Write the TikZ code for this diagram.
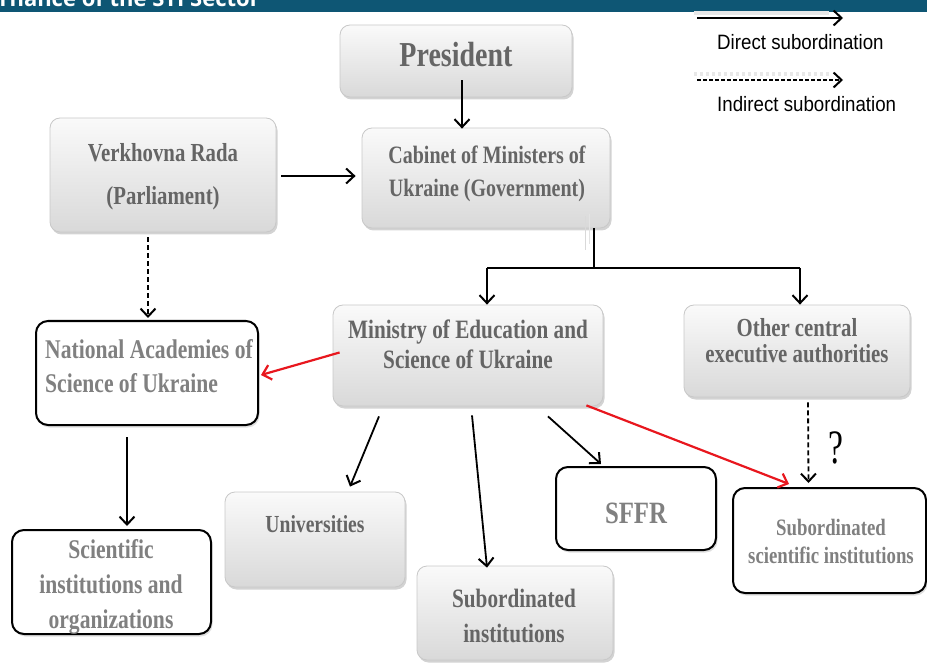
\documentclass[tikz,border=0pt]{standalone}
\usepackage{fontspec}
\setmainfont{Liberation Serif}
\newfontfamily\boxfont[FakeStretch=0.8]{Liberation Serif}
\newfontfamily\markfont[FakeStretch=0.7]{Liberation Serif}
\newfontfamily\legendfont[FakeStretch=0.9]{Liberation Sans}
\newfontfamily\bandfont{Open Sans}
\usetikzlibrary{arrows.meta,shadows,calc}

\definecolor{bandblue}{HTML}{0E5674}
\definecolor{boxtext}{HTML}{656565}
\definecolor{lighttext}{HTML}{808080}
\definecolor{boxedge}{HTML}{C8C8C8}
\definecolor{redarrow}{HTML}{E8171E}

\tikzset{
  graybox/.style={rectangle, rounded corners=10pt, draw=boxedge, line width=0.8pt,
    top color=gray!4, bottom color=gray!30, inner sep=0pt,
    drop shadow={shadow xshift=1.5pt, shadow yshift=-2.5pt, opacity=0.35, fill=gray}},
  whitebox/.style={rectangle, rounded corners=12pt, draw=black, line width=2pt,
    fill=white, inner sep=0pt,
    drop shadow={shadow xshift=1.5pt, shadow yshift=-2.5pt, opacity=0.25, fill=gray}},
  lbl/.style={font=\boxfont\bfseries, text=boxtext, align=center, inner sep=0pt, anchor=base},
  wlbl/.style={lbl, text=lighttext},
  arr/.style={line width=1.8pt, -{Straight Barb[length=8pt,width=15pt,line width=2pt]}},
  darr/.style={arr, dashed, dash pattern=on 5pt off 3pt},
  rarr/.style={arr, draw=redarrow, line width=2.2pt,
    -{Straight Barb[length=8pt,width=15pt,line width=2.2pt]}},
  legtext/.style={font=\legendfont\fontsize{20.8}{24}\selectfont, anchor=base west, inner sep=0pt},
}

\begin{document}
\begin{tikzpicture}[x=1pt, y=-1pt]
\useasboundingbox (0,0) rectangle (927,663);

% title band
\fill[bandblue] (0,0) rectangle (927,12);
\begin{scope}
  \clip (0,0) rectangle (927,12);
  \node[font=\bandfont\bfseries\fontsize{22}{24}\selectfont, text=white, anchor=base east, inner sep=0pt]
    (title) at (260,7) {Governance of the STI Sector};
\end{scope}

% boxes
\node[graybox, minimum width=232pt, minimum height=72pt]  (pres) at (456,61) {};
\node[graybox, minimum width=248pt, minimum height=100pt] (cab)  at (486,178) {};
\node[graybox, minimum width=226pt, minimum height=114pt] (rada) at (163,175) {};
\node[whitebox, minimum width=222pt, minimum height=104pt] (nas) at (147,373) {};
\node[graybox, minimum width=270pt, minimum height=101pt] (min)  at (468,355.5) {};
\node[graybox, minimum width=226pt, minimum height=92pt]  (oth)  at (797,351) {};
\node[graybox, minimum width=180pt, minimum height=95pt]  (uni)  at (315,539.5) {};
\node[graybox, minimum width=196pt, minimum height=94pt]  (subi) at (515,613) {};
\node[whitebox, minimum width=160pt, minimum height=83pt] (sffr) at (636,508.5) {};
\node[whitebox, minimum width=193pt, minimum height=105pt] (subs) at (829.5,540.5) {};
\node[whitebox, minimum width=199pt, minimum height=104pt] (sci) at (111.5,582) {};

% box texts (anchored on the baseline of their last line)
\node[lbl, font=\boxfont\bfseries\fontsize{35}{40}\selectfont] (presT) at (456,67) {President};
\node[lbl, font=\boxfont\bfseries\fontsize{25}{33}\selectfont] (cabT) at (487,197) {Cabinet of Ministers of\\Ukraine (Government)};
\node[lbl, font=\boxfont\bfseries\fontsize{26}{43}\selectfont] (radaT) at (163,205) {Verkhovna Rada\\(Parliament)};
\node[wlbl, align=left, font=\boxfont\bfseries\fontsize{27}{34}\selectfont] (nasT) at (149,392) {National Academies of\\Science of Ukraine};
\node[lbl, font=\boxfont\bfseries\fontsize{26.5}{30}\selectfont] (minT) at (468,368) {Ministry of Education and\\Science of Ukraine};
\node[lbl, font=\boxfont\bfseries\fontsize{26}{25}\selectfont] (othT) at (797,362) {Other central\\executive authorities};
\node[lbl, font=\boxfont\bfseries\fontsize{24.5}{28}\selectfont] (uniT) at (315,532) {Universities};
\node[lbl, font=\boxfont\bfseries\fontsize{26.5}{35}\selectfont] (subiT) at (514,642) {Subordinated\\institutions};
\node[wlbl, font=\boxfont\bfseries\fontsize{31}{34}\selectfont] (sffrT) at (636,523) {SFFR};
\node[wlbl, font=\boxfont\bfseries\fontsize{23.5}{28}\selectfont] (subsT) at (831,563) {Subordinated\\scientific institutions};
\node[wlbl, font=\boxfont\bfseries\fontsize{27}{35}\selectfont] (sciT) at (111,628) {Scientific\\institutions and\\organizations};

% faint double rule under the cabinet box
\draw[gray!30, line width=1pt] ($(cab.south)+(99,-12)$) -- ++(0,34);
\draw[gray!22, line width=1pt] ($(cab.south)+(103,-14)$) -- ++(0,30);

% direct subordination
\draw[arr] ($(pres.south)+(6,-17)$) -- ($(cab.north)+(-24,1)$);
\draw[arr] ($(rada.east)+(5,1)$) -- ($(cab.west)+(-6,-2)$);
\coordinate (busL) at (487,268);
\coordinate (busR) at (800,268);
\draw[line width=1.8pt] ($(cab.south)+(108,0)$) -- (busL -| 594,0);
\draw[line width=1.8pt] (busL) -- (busR);
\draw[arr] (busL) -- (busL |- min.north);
\draw[arr] (busR) -- (busR |- oth.north);
\draw[arr] ($(nas.south)+(-20,11)$) -- ($(sci.north)+(15.5,-3)$);
\draw[arr] ($(min.south)+(-89,10)$) -- ($(uni.north)+(35,-5)$);
\draw[arr] ($(min.south)+(4,9)$) -- ($(subi.north)+(-28,2)$);
\draw[arr] ($(min.south)+(80,10)$) -- ($(sffr.north)+(-35,-2)$);

% indirect subordination
\draw[darr] ($(rada.south)+(-15,5)$) -- ($(nas.north)+(1,-2)$);
\draw[darr] ($(oth.south)+(11,5)$) -- ($(subs.north)+(-21,-4)$);
\node[font=\markfont\fontsize{48}{50}\selectfont, anchor=base, inner sep=0pt] (q) at (836,463) {?};

% red links
\draw[rarr] ($(min.west)+(7,-3)$) -- ($(nas.east)+(2,2)$);
\draw[rarr] ($(min.south east)+(-17,-1)$) -- ($(subs.north west)+(57,-3)$);

% legend
\coordinate (la1) at (697,18);
\coordinate (la2) at (843,18);
\coordinate (lb1) at (697,80);
\coordinate (lb2) at (843,80);
\draw[gray!18, line width=4pt] ($(la1)+(-3,-5)$) -- ($(la2)+(-14,-5)$);
\draw[gray!18, line width=4pt, dashed] ($(lb1)+(-3,-6)$) -- ($(lb2)+(-14,-6)$);
\draw[arr] (la1) -- (la2);
\draw[darr, dash pattern=on 4pt off 2pt] (lb1) -- (lb2);
\node[legtext] (legA) at (717,50) {Direct subordination};
\node[legtext] (legB) at (717,112) {Indirect subordination};
\end{tikzpicture}
\end{document}
